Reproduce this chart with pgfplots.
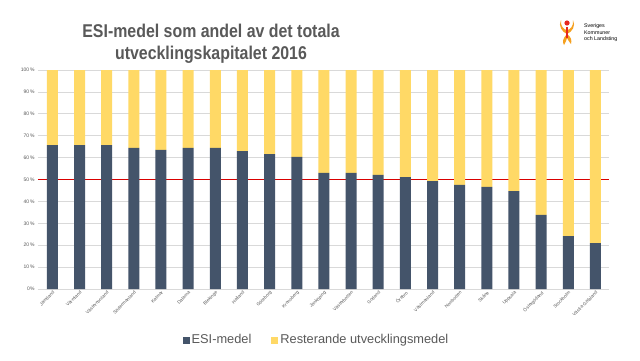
\documentclass[border=0pt]{standalone}
\usepackage{pgfplots}
\pgfplotsset{compat=1.18}
\usepackage{fontspec}
\setmainfont{Liberation Sans}
\newfontfamily\titlefont[FakeStretch=0.86]{Liberation Sans}
\definecolor{esi}{RGB}{68,84,106}
\definecolor{rest}{RGB}{255,217,102}
\definecolor{txt}{RGB}{89,89,89}
\definecolor{gridc}{RGB}{217,217,217}
\definecolor{skl}{RGB}{245,160,30}
\definecolor{sklred}{RGB}{230,40,30}
\begin{document}
\begin{tikzpicture}[x=1pt,y=1pt]
\useasboundingbox (0,0) rectangle (640,360);
\fill[white] (0,0) rectangle (640,360);
\node[font=\titlefont\fontsize{18.5}{22}\selectfont\bfseries, color=txt, align=center] at (211,316) {ESI-medel som andel av det totala\\utvecklingskapitalet 2016};
% logo
\node[font=\fontsize{5.3}{6.6}\selectfont, align=left, anchor=west, inner sep=0pt] at (584,327) {Sveriges\\Kommuner\\och Landsting};
\fill[skl] (561,340) .. controls (558,334) and (562,328) .. (567,326) .. controls (572,328) and (576,334) .. (573,340) .. controls (574,334) and (570,330) .. (567,330) .. controls (564,330) and (560,334) .. (561,340) -- cycle;
\fill[skl] (567,326) .. controls (563,322) and (562,318) .. (564,315) .. controls (565,318) and (567,319) .. (567,322) .. controls (568,319) and (570,318) .. (571,316) .. controls (572,320) and (571,323) .. (567,326) -- cycle;
\fill[sklred] (567,337) circle (2.6);
\fill[sklred] (566.2,333) rectangle (567.8,322);
\begin{axis}[at={(38pt,71pt)}, anchor=south west, scale only axis,
  width=571pt, height=219pt,
  ybar stacked, bar width=11pt,
  ymin=0, ymax=100, xmin=-0.53, xmax=20.5,
  axis x line*=bottom, axis y line*=left,
  x axis line style={draw=gridc, line width=0.8pt},
  y axis line style={draw=none},
  ymajorgrids, grid style={draw=gridc, line width=0.8pt},
  major tick length=0pt,
  ytick={0,10,...,100},
  yticklabels={0\%,10\,\%,20\,\%,30\,\%,40\,\%,50\,\%,60\,\%,70\,\%,80\,\%,90\,\%,100\,\%},
  y tick label style={font=\fontsize{5}{5}\selectfont, color=txt},
  xtick=data,
  xticklabels={Jämtland,Värmland,Västernorrland,Södermanland,Kalmar,Dalarna,Blekinge,Halland,Göteborg,Kronoberg,Jönköping,Västerbotten,Gotland,Örebro,Västmanland,Norrbotten,Skåne,Uppsala,Östergötland,Stockholm,Västra Götaland},
  x tick label style={rotate=45, anchor=north east, font=\fontsize{4.6}{5}\selectfont, color=txt, inner sep=1pt},
  legend style={at={(0.4877,-0.233)}, anchor=center, draw=none, fill=none,
    legend columns=2, font=\fontsize{12.8}{14}\selectfont, text=txt,
    /tikz/every even column/.append style={column sep=18pt}},
  legend image code/.code={\fill[#1,draw=none] (0pt,-3.5pt) rectangle (7pt,3.5pt);},
]
\addplot[fill=esi, draw=none] coordinates {
(0,65.7) (1,65.7) (2,65.7) (3,64.4) (4,63.5) (5,64.4) (6,64.4) (7,63.0) (8,61.6) (9,60.3) (10,53.0)
(11,53.0) (12,52.1) (13,51.1) (14,49.3) (15,47.5) (16,46.6) (17,44.7) (18,33.8) (19,24.2) (20,21.0)};
\addplot[fill=rest, draw=none] coordinates {
(0,34.3) (1,34.3) (2,34.3) (3,35.6) (4,36.5) (5,35.6) (6,35.6) (7,37.0) (8,38.4) (9,39.7) (10,47.0)
(11,47.0) (12,47.9) (13,48.9) (14,50.7) (15,52.5) (16,53.4) (17,55.3) (18,66.2) (19,75.8) (20,79.0)};
\legend{ESI-medel,Resterande utvecklingsmedel}
\draw[color=red!85!black, line width=0.9pt] (axis cs:-0.53,50) -- (axis cs:20.5,50);
\end{axis}
\end{tikzpicture}
\end{document}
